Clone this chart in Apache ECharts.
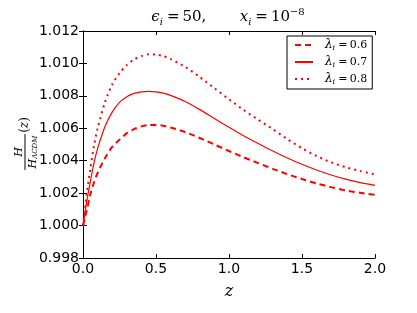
<!DOCTYPE html>
<html>
<head>
<meta charset="utf-8">
<script src="https://cdn.jsdelivr.net/npm/echarts@6/dist/echarts.min.js"></script>
<style>
html,body{margin:0;padding:0;background:#fff;}
#c{width:417px;height:313px;}
</style>
</head>
<body>
<div id="c"></div>
<script>
const zValues = [0, 0.025, 0.05, 0.075, 0.1, 0.15, 0.2, 0.25, 0.3, 0.35, 0.4, 0.45, 0.5, 0.55, 0.6, 0.7, 0.8, 0.9, 1.0, 1.1, 1.2, 1.3, 1.4, 1.5, 1.6, 1.7, 1.8, 1.9, 2.0];
const lambda06 = [1.0000, 1.0009, 1.0019, 1.00265, 1.00325, 1.00415, 1.00485, 1.0053, 1.0057, 1.00595, 1.00612, 1.0062, 1.00621, 1.00616, 1.00605, 1.00577, 1.0054, 1.0050, 1.0046, 1.00421, 1.00385, 1.0035, 1.00317, 1.00287, 1.0026, 1.00237, 1.00217, 1.00202, 1.0019];
const lambda07 = [1.0000, 1.00145, 1.0027, 1.00385, 1.00475, 1.0061, 1.0070, 1.0076, 1.00795, 1.00815, 1.00825, 1.00828, 1.00825, 1.00817, 1.00803, 1.00765, 1.00715, 1.0066, 1.00606, 1.00554, 1.00506, 1.0046, 1.00417, 1.00378, 1.00343, 1.00312, 1.00286, 1.00265, 1.00248];
const lambda08 = [1.0000, 1.0019, 1.0035, 1.0049, 1.0060, 1.0076, 1.0087, 1.0094, 1.0099, 1.01025, 1.01045, 1.01056, 1.01055, 1.01045, 1.01027, 1.00979, 1.00916, 1.00847, 1.00779, 1.00713, 1.00653, 1.00595, 1.00533, 1.00477, 1.00429, 1.0039, 1.0036, 1.00336, 1.00316];
const seriesNames = ['λ=0.6', 'λ=0.7', 'λ=0.8'];
const legendValues = ['0.6', '0.7', '0.8'];
const xTicks = [0, 0.5, 1.0, 1.5, 2.0];
const yTicks = [0.998, 1.000, 1.002, 1.004, 1.006, 1.008, 1.010, 1.012];

const chart = echarts.init(document.getElementById('c'), null, {renderer: 'canvas'});
const pair = (ys) => zValues.map((z, i) => [z, ys[i]]);
const RED = '#ff0000';
const sans = 'DejaVu Sans';
const serif = 'DejaVu Serif';
const TS = '\u2009';

const tickCommon = {show: true, inside: true, length: 4, lineStyle: {color: '#000', width: 1}};
const lineCommon = {show: true, lineStyle: {color: '#000', width: 1}};

const option = {
  animation: false,
  backgroundColor: '#fff',
  grid: {left: 83, right: 42, top: 31, bottom: 55, containLabel: false},
  xAxis: [{
    type: 'value', min: 0, max: 2, interval: 0.5, position: 'bottom',
    axisLine: lineCommon, axisTick: tickCommon, splitLine: {show: false},
    axisLabel: {color: '#000', fontFamily: sans, fontSize: 14, margin: 4,
      formatter: v => v.toFixed(1)},
    name: 'z', nameLocation: 'middle', nameGap: 26,
    nameTextStyle: {fontFamily: serif, fontStyle: 'italic', fontSize: 16, color: '#000'}
  }, {
    type: 'value', min: 0, max: 2, interval: 0.5, position: 'top',
    axisLine: lineCommon, axisTick: tickCommon, axisLabel: {show: false}, splitLine: {show: false}
  }],
  yAxis: [{
    type: 'value', min: 0.998, max: 1.012, interval: 0.002, position: 'left',
    axisLine: lineCommon, axisTick: tickCommon, splitLine: {show: false},
    axisLabel: {color: '#000', fontFamily: sans, fontSize: 14, margin: 4,
      formatter: v => v.toFixed(3)}
  }, {
    type: 'value', min: 0.998, max: 1.012, interval: 0.002, position: 'right',
    axisLine: lineCommon, axisTick: tickCommon, axisLabel: {show: false}, splitLine: {show: false}
  }],
  legend: {
    orient: 'vertical', left: 287, top: 36,
    backgroundColor: '#fff', borderColor: '#000', borderWidth: 1, borderRadius: 0,
    padding: [3, 5, 3, 7], itemWidth: 18, itemHeight: 14, itemGap: 4,
    itemStyle: {opacity: 0},
    data: seriesNames,
    formatter: name => {
      const v = legendValues[seriesNames.indexOf(name)];
      return '{m|λ}{s|i}{n|' + TS + '=' + TS + v + '}';
    },
    textStyle: {
      padding: [0, 0, 0, 7],
      rich: {
        m: {fontFamily: serif, fontStyle: 'italic', fontSize: 12, color: '#000'},
        s: {fontFamily: serif, fontStyle: 'italic', fontSize: 8, color: '#000', verticalAlign: 'bottom', padding: [6, 1, 0, 0]},
        n: {fontFamily: serif, fontSize: 11, color: '#000'}
      }
    }
  },
  series: [
    {name: seriesNames[0], type: 'line', data: pair(lambda06), showSymbol: false, symbol: 'none',
      smooth: 0.25, lineStyle: {color: RED, width: 2, type: [6, 4]}, itemStyle: {color: RED}},
    {name: seriesNames[1], type: 'line', data: pair(lambda07), showSymbol: false, symbol: 'none',
      smooth: 0.25, lineStyle: {color: RED, width: 1.2, type: 'solid'}, itemStyle: {color: RED}},
    {name: seriesNames[2], type: 'line', data: pair(lambda08), showSymbol: false, symbol: 'none',
      smooth: 0.25, lineStyle: {color: RED, width: 2, type: [2, 4]}, itemStyle: {color: RED}}
  ],
  graphic: [
    {
      type: 'text', x: 228, y: 17,
      style: {
        text: '{m|ϵ}{s|i}{n|' + TS + '=' + TS + '50,       }{m|x}{s|i}{n|' + TS + '=' + TS + '10}{p|−8}',
        align: 'center', verticalAlign: 'middle',
        rich: {
          m: {fontFamily: serif, fontStyle: 'italic', fontSize: 15, color: '#000', lineHeight: 20},
          n: {fontFamily: serif, fontSize: 15, color: '#000', lineHeight: 20},
          s: {fontFamily: serif, fontStyle: 'italic', fontSize: 10, color: '#000', verticalAlign: 'bottom', padding: [8, 1, 0, 0]},
          p: {fontFamily: serif, fontSize: 10, color: '#000', verticalAlign: 'top', padding: [0, 0, 8, 0]}
        }
      }
    },
    {
      type: 'group', x: 25, y: 152, rotation: Math.PI / 2,
      children: [
        {type: 'line', shape: {x1: -18, y1: 0, x2: 18, y2: 0}, style: {stroke: '#000', lineWidth: 1}},
        {type: 'text', x: 0, y: -6, style: {text: 'H', fontFamily: serif, fontStyle: 'italic', fontSize: 11, fill: '#000', align: 'center', verticalAlign: 'middle'}},
        {type: 'text', x: 0, y: 8, style: {
          text: '{m|H}{s|ΛCDM}', align: 'center', verticalAlign: 'middle',
          rich: {
            m: {fontFamily: serif, fontStyle: 'italic', fontSize: 11, color: '#000'},
            s: {fontFamily: serif, fontStyle: 'italic', fontSize: 7, color: '#000', verticalAlign: 'bottom', padding: [5, 0, 0, 0]}
          }
        }},
        {type: 'text', x: 27, y: 0, style: {
          text: '{n|(}{m|z}{n|)}', align: 'center', verticalAlign: 'middle',
          rich: {
            n: {fontFamily: serif, fontSize: 12, color: '#000'},
            m: {fontFamily: serif, fontStyle: 'italic', fontSize: 12, color: '#000'}
          }
        }}
      ]
    }
  ]
};
chart.setOption(option);
</script>
</body>
</html>
